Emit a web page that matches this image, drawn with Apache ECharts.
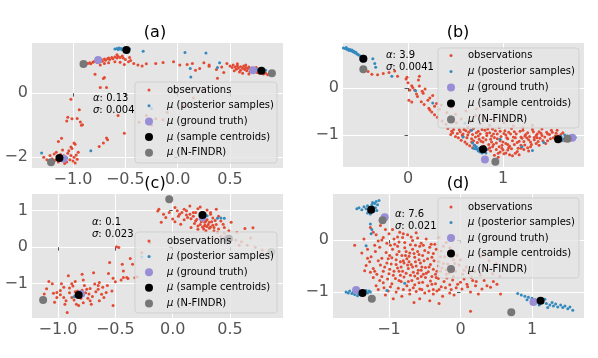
<!DOCTYPE html>
<html>
<head>
<meta charset="utf-8">
<script src="https://cdn.jsdelivr.net/npm/echarts@6/dist/echarts.min.js"></script>
<style>
html, body { margin: 0; padding: 0; background: #fff; }
#main { width: 598px; height: 358px; }
</style>
</head>
<body>
<div id="main"></div>
<script>
// ---- panel (a) ----
var obsA = [
    [-0.92,0.88],[-0.9,0.92],[-0.88,0.9],[-0.86,0.93],[-0.84,0.95],[-0.83,0.92],[-0.81,0.97],[-0.8,0.99],[-0.78,1.0],[-0.77,0.96],
    [-0.75,1.02],[-0.73,1.05],[-0.72,1.0],[-0.7,1.07],[-0.69,1.03],[-0.67,1.08],[-0.66,1.1],[-0.65,1.05],[-0.63,1.12],[-0.62,1.08],
    [-0.6,1.13],[-0.58,1.1],[-0.57,1.15],[-0.55,1.12],[-0.53,1.16],[-0.52,1.1],[-0.5,1.05],[-0.47,0.98],[-0.45,1.02],[-0.42,0.93],
    [-0.38,0.88],[-0.7,0.93],[-0.66,0.95],[-0.6,0.98],[-0.55,0.97],[-0.74,0.88],[-0.58,1.2],[-0.46,1.12],[-0.51,0.9],[-0.34,0.85],
    [-0.3,0.92],[-0.21,0.93],[-0.14,0.96],[-0.04,0.98],[0.02,0.88],[0.09,0.9],[0.14,0.93],[0.17,0.72],[0.21,0.77],[0.3,0.84],
    [0.37,0.74],[0.42,0.82],[0.47,0.93],[0.38,0.47],[0.3,0.88],[0.25,0.95],[0.44,0.65],
    [0.5,0.85],[0.52,0.8],[0.53,0.88],[0.55,0.82],[0.56,0.75],[0.57,0.86],[0.58,0.79],[0.6,0.83],[0.6,0.72],[0.62,0.78],
    [0.63,0.85],[0.64,0.74],[0.65,0.8],[0.66,0.7],[0.67,0.77],[0.68,0.82],[0.69,0.68],[0.7,0.74],[0.71,0.79],[0.72,0.66],
    [0.73,0.71],[0.74,0.76],[0.76,0.65],[0.77,0.7],[0.78,0.62],[0.8,0.66],[0.82,0.6],[0.84,0.62],[0.86,0.58],[0.54,0.7],
    [0.59,0.66],[0.62,0.62],[0.57,0.92],[0.65,0.88],[0.75,0.8],[0.68,0.6],
    [-0.79,0.59],[-0.7,0.49],[-0.74,0.18],[-0.68,0.18],[-0.71,0.46],[-1.02,-0.19],[-0.94,-0.52],[-1.05,-0.75],[-1.06,-0.87],[-0.91,-0.99],
    [-1.01,-0.8],[-0.96,-0.79],[-0.57,-0.7],[-0.51,-1.25],[-0.67,-1.46],[-0.71,-1.56],[-0.75,-1.67],[-1.14,-1.51],[-1.11,-1.41],[-0.99,-1.56],
    [-0.68,-1.4],[-0.92,-1.0],[-0.93,-0.9],[-1.02,-1.68],[-0.98,-1.6],
    [-1.22,-1.95],[-1.2,-2.05],[-1.18,-1.9],[-1.17,-2.1],[-1.15,-1.98],[-1.14,-2.15],[-1.12,-1.92],[-1.1,-2.1],[-1.09,-1.96],[-1.07,-2.02],
    [-1.06,-2.15],[-1.05,-1.88],[-1.03,-2.08],[-1.02,-1.95],[-1.0,-2.12],[-0.99,-2.0],[-0.97,-1.93],[-0.96,-2.07],[-1.04,-1.8],[-1.1,-1.78],
    [-1.16,-1.85],[-1.25,-2.08],[-1.28,-2.0],[-0.98,-2.18],[-1.08,-2.2],[-1.01,-1.73],[-0.95,-1.85],
    [-0.37,-0.91],[-0.21,-0.8],[-0.14,-0.83],[-0.3,-0.7],[-0.1,-0.6],[0.05,-0.4],[0.15,-0.15],[0.25,0.1],[-0.25,-1.0]
];
var postA = [
    [-0.6,1.38],[-0.58,1.4],[-0.57,1.37],[-0.56,1.41],[-0.55,1.38],[-0.54,1.4],[-0.53,1.36],[-0.52,1.39],[-0.51,1.37],[-0.5,1.41],
    [-0.48,1.36],[-0.46,1.38],[-0.33,1.31],[0.07,1.27],[0.27,1.26],[0.12,0.77],[0.125,0.51],[0.4,0.95],[0.38,0.8],[-1.3,-1.87],
    [-0.83,-1.8],[-1.12,-2.05],[-1.1,-2.02],[-1.08,-2.06],[-1.06,-2.03],[-1.14,-2.0],[0.76,0.73],[0.79,0.72],[0.82,0.7],[0.84,0.72],
    [0.78,0.69],[-0.25,-0.48]
];
var truthA = [[-0.76,1.04],[-1.09,-2.05],[0.72,0.72]];
var centA = [[-0.49,1.35],[-1.13,-2.03],[0.8,0.7]];
var nfindrA = [[-0.9,0.91],[-1.21,-2.16],[0.9,0.62]];
var xTicksA = [-1.0, -0.5, 0.0, 0.5];
var yTicksA = [-2, 0];

// ---- panel (b) ----
var obsB = [
    [-0.42,0.35],[-0.38,0.29],[-0.32,0.28],[-0.26,0.31],[-0.2,0.33],[-0.14,0.36],[-0.11,0.25],[-0.02,0.19],[0.0,0.11],[0.04,0.05],
    [0.12,0.25],[0.07,-0.04],[0.16,-0.11],[0.04,-0.3],[0.1,-0.18],[0.17,-0.35],[0.23,-0.21],[0.26,-0.16],[0.22,-0.43],[0.28,-0.39],
    [0.12,0.04],[-0.01,0.23],[0.02,-0.04],[0.01,-0.26],[0.11,0.17],[0.15,-0.07],[0.21,-0.26],[0.23,-0.47],[0.3,-0.33],[0.28,-0.57],
    [0.05,0.01],[0.18,-0.02],[0.09,-0.13],[0.14,-0.29],[0.25,-0.51],[0.33,-0.45],[0.31,-0.62],[0.36,-0.7],[0.4,-0.77],[0.42,-0.86],
    [0.46,-0.92],[0.54,-0.89],[0.58,-1.03],
    [0.35,-0.36],[0.41,-0.52],[0.46,-0.41],[0.5,-0.56],[0.56,-0.66],[0.61,-0.49],[0.66,-0.71],[0.71,-0.59],[0.76,-0.76],[0.81,-0.64],
    [0.86,-0.79],[0.91,-0.69],[0.96,-0.84],[1.01,-0.74],[1.11,-0.81],[1.21,-0.84],[1.31,-0.79],[1.41,-0.87],[0.51,-0.74],[0.63,-0.83],
    [0.72,-0.44],
    [0.48,-0.88],[0.61,-0.91],[0.69,-0.86],[0.81,-0.9],[0.89,-0.87],[1.02,-0.91],[1.09,-0.86],[1.21,-0.9],[1.31,-0.88],[1.38,-0.93],
    [1.51,-0.9],[1.56,-0.96],[0.52,-0.97],[0.64,-0.94],[0.76,-0.98],[0.86,-0.95],[0.94,-0.98],[1.06,-0.94],[1.14,-0.98],[1.26,-0.95],
    [1.36,-0.98],[1.46,-0.94],[1.61,-0.99],[0.5,-1.03],[0.63,-1.0],[0.71,-1.04],[0.83,-1.01],[0.91,-1.05],[1.03,-1.0],[1.11,-1.04],
    [1.23,-1.02],[1.33,-1.05],[1.41,-1.01],[1.53,-1.06],[0.56,-1.11],[0.67,-1.08],[0.77,-1.13],[0.87,-1.09],[0.97,-1.12],[1.05,-1.08],
    [1.17,-1.13],[1.27,-1.1],[1.37,-1.14],[1.47,-1.12],[0.62,-1.19],[0.73,-1.16],[0.85,-1.2],[0.93,-1.17],[1.05,-1.2],[1.15,-1.16],
    [1.23,-1.21],[1.35,-1.18],[0.68,-1.27],[0.89,-1.25],[0.99,-1.28],[1.07,-1.24],[1.19,-1.28],[1.29,-1.25],[0.87,-1.34],[0.97,-1.36],
    [1.05,-1.32],[1.15,-1.35],[1.22,-1.31],[0.91,-1.43],[1.01,-1.4],[1.1,-1.44],[0.55,-0.93],[0.68,-0.99],[0.79,-1.06],[0.88,-1.15],
    [0.99,-1.22],[1.09,-1.29],[1.19,-1.22],[1.29,-1.15],[1.39,-1.07],[1.49,-0.99],[0.6,-1.15],[0.7,-1.22],[0.93,-1.31],[1.03,-1.38],
    [1.13,-1.39],[0.58,-0.98],[0.74,-0.92],[0.9,-0.98],[1.04,-1.06],[1.2,-1.07],[1.35,-1.01],[0.8,-1.24],[0.95,-1.47],[1.27,-1.34],
    [1.45,-1.18],[0.65,-1.23],[1.58,-1.02],[1.12,-0.93],[0.97,-0.92],[0.83,-0.96],[0.75,-1.09],[1.0,-1.15],[1.25,-1.06],[0.45,-0.99],
    [1.65,-1.12],
    [0.47,-0.95],[0.53,-1.06],[0.57,-1.0],[0.59,-0.88],[0.62,-1.06],[0.66,-0.9],[0.67,-1.15],[0.72,-0.95],[0.74,-1.02],[0.78,-0.88],
    [0.79,-1.15],[0.82,-1.1],[0.84,-0.87],[0.86,-1.27],[0.88,-1.02],[0.9,-1.2],[0.92,-0.91],[0.94,-1.08],[0.96,-1.25],[0.98,-1.03],
    [1.0,-1.32],[1.01,-0.97],[1.03,-1.18],[1.06,-1.27],[1.08,-0.98],[1.1,-1.12],[1.12,-1.2],[1.13,-1.06],[1.16,-1.28],[1.18,-0.92],
    [1.19,-1.04],[1.22,-1.14],[1.24,-0.99],[1.26,-1.27],[1.28,-1.03],[1.3,-1.2],[1.32,-0.93],[1.33,-1.1],[1.36,-1.06],[1.38,-1.22],
    [1.4,-0.96],[1.42,-1.12],[1.44,-1.04],[1.47,-0.98],[1.5,-1.08],[1.52,-0.94],[1.55,-1.02],[1.57,-0.9],[1.6,-1.06],[1.63,-0.95],
    [0.69,-1.12],[0.84,-1.3],[1.07,-1.42],[0.95,-1.39],[1.17,-1.42]
];
var postB = [
    [-0.68,0.85],[-0.66,0.84],[-0.65,0.86],[-0.64,0.82],[-0.63,0.83],[-0.62,0.8],[-0.61,0.82],[-0.6,0.79],[-0.59,0.81],[-0.58,0.77],
    [-0.57,0.78],[-0.56,0.75],[-0.55,0.76],[-0.54,0.73],[-0.53,0.72],[-0.52,0.7],[-0.5,0.68],[-0.49,0.66],[-0.37,0.62],[-0.34,0.44],
    [-0.17,0.25],[0.08,-0.06],[0.26,-0.32],[-0.35,0.52],
    [0.68,-1.17],[0.7,-1.22],[0.72,-1.25],[0.73,-1.3],[0.74,-1.34],[0.75,-1.28],[0.76,-1.36],[0.77,-1.32],[0.78,-1.38],[0.8,-1.35],
    [0.81,-1.33],[0.82,-1.38],[0.83,-1.31],[0.71,-1.29],[0.69,-1.28],[0.67,-0.9],[0.58,-1.04],[0.97,-1.09],
    [1.59,-1.05],[1.61,-1.03],[1.63,-1.08],[1.65,-1.0],[1.66,-1.05],[1.68,-1.02],[1.7,-1.07],[1.72,-1.04],[1.74,-1.08],[1.76,-1.05],
    [1.62,-1.12],[1.31,-1.33],[1.43,-1.16],[1.2,-1.25],[0.45,-0.6],[0.6,-0.75]
];
var truthB = [[-0.47,0.62],[0.81,-1.52],[1.73,-1.06]];
var centB = [[-0.47,0.62],[0.79,-1.3],[1.58,-1.09]];
var nfindrB = [[-0.47,0.4],[0.92,-1.57],[1.68,-1.08]];
var xTicksB = [0, 1];
var yTicksB = [-1, 0];

// ---- panel (c) ----
var obsC = [
    [-1.08,-0.94],[-1.05,-1.0],[-1.1,-1.14],[-1.12,-1.28],[-1.04,-1.26],[-1.03,-1.51],[-0.97,-1.0],[-0.98,-1.19],[-0.95,-1.38],[-0.94,-1.56],
    [-0.91,-0.78],[-0.9,-1.12],[-0.92,-1.79],[-0.87,-1.06],[-0.85,-0.94],[-0.79,-0.74],[-0.78,-0.9],[-0.75,-1.15],[-0.73,-1.28],[-0.72,-1.47],
    [-0.69,-0.7],[-0.68,-1.01],[-0.65,-1.15],[-0.64,-0.97],[-0.62,-1.29],[-0.61,-1.1],[-0.58,-1.24],[-0.53,-1.2],[-0.52,-1.6],[-0.64,-1.47],
    [-0.71,-1.56],[-0.78,-1.52],[-0.84,-1.56],[-0.88,-1.38],[-1.01,-1.38],[-1.01,-1.24],
    [-0.83,-1.2],[-0.8,-1.4],[-0.76,-1.25],[-0.86,-1.45],[-0.9,-1.25],[-0.7,-1.35],[-0.95,-1.1],[-0.67,-1.22],[-0.6,-1.38],[-0.77,-1.05],
    [-0.88,-1.0],[-0.72,-1.13],[-0.93,-1.47],[-0.82,-1.6],[-0.57,-1.05],[-0.65,-1.05],[-0.98,-1.3],[-0.79,-1.18],[-0.85,-1.22],[-0.74,-1.4],
    [-0.47,-0.01],[-0.55,-0.42],[-0.44,-0.47],[-0.43,-0.65],[-0.4,-0.83],[-0.43,-0.83],[-0.35,-0.47],[-0.27,-0.15],[-0.2,0.13],[-0.49,0.01],
    [-0.37,-0.31],[-0.31,-0.81],[-0.39,-0.86],[-0.56,-0.72],[-0.5,-0.95],[-0.33,-0.84],[-0.45,-0.9],[-0.52,-0.85],
    [-0.12,1.04],[-0.06,0.81],[-0.03,0.95],[0.0,0.77],[0.02,1.09],[0.06,0.9],[0.07,0.63],[0.1,1.04],[0.13,0.81],[0.15,1.13],
    [0.16,0.54],[0.2,0.72],[0.22,0.49],[0.28,0.58],[0.29,0.45],[0.32,0.68],[0.33,0.9],[0.36,0.54],[0.38,1.04],[0.39,0.4],
    [0.44,0.63],[0.45,0.54],[0.49,0.45],[0.51,0.68],
    [0.2,0.95],[0.22,1.05],[0.18,0.85],[0.3,0.75],[0.33,0.95],[0.35,0.8],[0.25,0.7],[0.28,0.6],[0.15,0.9],[0.1,0.75],
    [0.05,0.85],[0.12,1.0],[0.24,1.1],[0.3,1.02],[0.4,0.85],[0.42,0.72],[0.38,0.62],[0.26,0.95],[0.19,0.65],[0.16,0.78],
    [0.08,0.95],[0.02,0.7],[-0.08,0.9],[-0.1,0.68],[0.32,0.52],[0.4,0.5],[0.45,0.38],[0.36,0.45],[0.27,0.5],[0.22,0.58],
    [-0.13,0.99],
    [0.25,0.78],[0.28,0.68],[0.31,0.62],[0.34,0.7],[0.3,0.57],[0.24,0.62],[0.35,0.6],[0.29,0.72],[0.21,0.76],[0.37,0.73],
    [0.33,0.55],[0.26,0.55],[0.18,0.95],[0.12,0.88],[0.04,1.0],
    [0.56,0.4],[0.63,0.51],[0.7,0.53],[0.5,0.3],[0.55,0.2],[0.6,0.15],[0.65,0.05],[0.72,0.0],[0.78,-0.08],[0.58,0.05],
    [0.68,0.25],[0.42,0.3],[0.35,0.25]
];
var postC = [
    [-0.85,-1.33],[-0.83,-1.28],[-0.8,-1.3],[-0.78,-1.32],[-0.86,-1.36],[-0.79,-1.27],
    [0.24,0.88],[0.28,0.9],[0.3,0.86],[0.39,0.79],[0.45,0.79],[0.42,0.8],
    [-0.27,-0.27],[-0.2,-0.26],[0.45,0.2],[0.5,0.25],[0.48,0.18]
];
var truthC = [[-0.8,-1.28],[0.26,0.81],[0.47,0.22]];
var centC = [[-0.82,-1.31],[0.26,0.88],[0.49,0.23]];
var nfindrC = [[-1.13,-1.45],[-0.03,1.31],[0.86,-0.13]];
var xTicksC = [-1.0, -0.5, 0.0, 0.5];
var yTicksC = [-1, 0, 1];

// ---- panel (d) ----
var obsD = [
    [-1.26,0.24],[-1.22,0.15],[-1.12,0.28],[-1.08,0.05],[-1.0,0.12],[-0.95,0.2],[-0.92,-0.08],[-0.88,0.06],[-0.81,0.05],[-0.78,-0.05],
    [-0.74,0.1],[-0.67,-0.01],[-0.6,0.04],[-0.55,-0.06],[-0.48,0.02],[-0.41,-0.08],[-1.15,-0.02],[-1.03,-0.06],[-0.85,0.15],[-1.18,0.1],
    [-0.62,0.14],[-0.7,-0.09],[-0.3,0.05],[-0.2,-0.05],[-0.15,-0.15],[-1.35,0.02],[-1.48,-0.1],
    [-1.38,-0.25],[-1.3,-0.18],[-1.25,-0.32],[-1.19,-0.22],[-1.13,-0.14],[-1.1,-0.35],[-1.04,-0.24],[-0.99,-0.3],[-0.95,-0.18],[-0.9,-0.38],
    [-0.86,-0.22],[-0.82,-0.3],[-0.78,-0.15],[-0.75,-0.36],[-0.71,-0.25],[-0.67,-0.18],[-0.64,-0.33],[-0.6,-0.22],[-0.57,-0.12],[-0.53,-0.3],
    [-0.5,-0.2],[-0.46,-0.36],[-0.43,-0.14],[-0.38,-0.26],[-0.34,-0.18],[-0.27,-0.21],[-0.22,-0.32],[-0.16,-0.27],[-0.1,-0.38],[-0.05,-0.3],
    [-0.88,-0.12],[-0.72,-0.31],[-0.58,-0.38],[-0.96,-0.34],[-0.4,-0.33],[-0.65,-0.26],[-0.8,-0.4],
    [-1.32,-0.49],[-1.34,-0.59],[-1.27,-0.42],[-1.22,-0.55],[-1.17,-0.66],[-1.12,-0.48],[-1.08,-0.6],[-1.03,-0.44],[-0.99,-0.56],[-0.94,-0.68],
    [-0.9,-0.47],[-0.86,-0.6],[-0.83,-0.52],[-0.79,-0.44],[-0.76,-0.64],[-0.73,-0.55],[-0.69,-0.47],[-0.66,-0.62],[-0.62,-0.5],[-0.59,-0.58],
    [-0.56,-0.44],[-0.52,-0.66],[-0.49,-0.53],[-0.45,-0.61],[-0.42,-0.47],[-0.38,-0.56],[-0.35,-0.66],[-0.31,-0.5],[-0.28,-0.6],[-0.24,-0.45],
    [-0.2,-0.57],[-0.16,-0.64],[-0.12,-0.52],[-0.07,-0.6],[-0.02,-0.48],[0.05,-0.58],[0.12,-0.65],[0.2,-0.6],[0.28,-0.68],[-0.72,-0.42],
    [-0.54,-0.52],[-0.3,-0.42],[-0.88,-0.54],[-0.64,-0.69],[-0.4,-0.7],[-1.0,-0.65],[-0.18,-0.46],
    [-1.22,-0.72],[-1.18,-0.88],[-1.13,-0.78],[-1.07,-0.92],[-1.01,-0.98],[-1.02,-0.75],[-0.96,-0.84],[-0.91,-0.74],[-0.87,-0.93],[-0.83,-0.8],
    [-0.79,-0.71],[-0.75,-0.88],[-0.71,-0.96],[-0.68,-0.78],[-0.64,-0.86],[-0.6,-0.74],[-0.57,-0.94],[-0.53,-0.81],[-0.49,-0.72],[-0.46,-0.88],
    [-0.42,-0.79],[-0.38,-0.95],[-0.35,-0.84],[-0.31,-0.74],[-0.27,-0.9],[-0.23,-0.8],[-0.19,-0.73],[-0.15,-0.86],[-0.11,-0.77],[-0.06,-0.92],
    [0.0,-0.81],[0.02,-0.94],[0.09,-0.85],[0.14,-1.0],[0.21,-0.88],[0.25,-1.04],[0.3,-0.94],[0.37,-0.88],[0.42,-0.91],[0.51,-0.85],
    [0.56,-1.04],[-0.84,-0.68],[-0.55,-0.7],[-0.1,-0.7],[0.05,-0.75],[0.17,-0.78],[-0.33,-0.98],[-0.62,-0.99],
    [-0.94,-1.13],[-0.71,-1.04],[-0.57,-1.13],[-0.43,-1.17],[-0.38,-1.04],[-0.82,-1.08],[-0.5,-1.02],[-0.25,-1.08],[-0.15,-1.02],[-0.65,-1.2],
    [0.14,-1.37],[-1.05,-1.06],[-0.3,-1.22],
    [0.35,-0.55],[0.45,-0.65],[0.55,-0.7],[0.4,-0.4],[0.6,-0.5],[0.5,-0.45],[0.3,-0.3],[0.45,-0.25],
    [-1.2,-0.1],[-1.1,0.0],[-1.05,0.2],[-0.98,-0.1],[-0.93,0.02],[-0.86,-0.04],[-0.8,0.12],[-0.76,-0.22],[-0.69,0.06],[-0.63,-0.1],
    [-0.58,-0.28],[-0.52,-0.1],[-0.45,-0.24],[-0.36,-0.08],[-0.28,-0.32],[-0.24,-0.12],[-0.12,-0.22],[-0.08,-0.45],[0.0,-0.38],[0.03,-0.66],
    [0.08,-0.52],[0.15,-0.72],[0.22,-0.8],[0.1,-0.9],[-0.04,-0.85],[-0.13,-0.95],[-0.2,-0.66],[-0.26,-0.54],[-0.33,-0.6],[-0.37,-0.4],
    [-0.44,-0.52],[-0.48,-0.64],[-0.51,-0.4],[-0.55,-0.58],[-0.6,-0.64],[-0.63,-0.42],[-0.67,-0.52],[-0.7,-0.68],[-0.74,-0.48],[-0.77,-0.3],
    [-0.81,-0.6],[-0.84,-0.42],[-0.89,-0.28],[-0.93,-0.6],[-0.97,-0.46],[-1.01,-0.36],[-1.06,-0.52],[-1.1,-0.7],[-1.15,-0.4],[-1.2,-0.6],
    [-1.26,-0.62],[-1.3,-0.35],[-1.15,-0.95],[-1.08,-0.82],[-0.98,-0.9],[-0.9,-1.0],[-0.8,-0.95],[-0.73,-0.8],[-0.66,-0.92],[-0.58,-0.82],
    [-0.44,-0.98],[-0.4,-0.85],[-0.3,-0.95],[-0.21,-0.92],[-0.09,-1.06],[0.33,-0.78],[0.46,-0.8],[-0.54,-0.95],[-0.86,-0.78],[-0.34,-0.72]
];
var postD = [
    [-1.45,0.6],[-1.42,0.62],[-1.38,0.58],[-1.35,0.64],[-1.32,0.6],[-1.3,0.66],[-1.28,0.55],[-1.27,0.62],[-1.24,0.68],[-1.22,0.63],
    [-1.2,0.7],[-1.18,0.74],[-1.16,0.68],[-1.14,0.76],[-1.26,0.5],[-1.3,0.52],[-1.21,0.56],[-1.19,0.62],[-1.23,0.72],[-1.17,0.57],
    [-1.26,0.31],[-1.25,0.12],[-1.32,-0.11],[-1.24,0.2],
    [-1.6,-1.0],[-1.57,-1.02],[-1.55,-0.98],[-1.52,-1.03],[-1.5,-1.0],[-1.48,-1.05],[-1.45,-1.01],[-1.42,-1.04],[-1.4,-0.99],[-1.35,-1.0],
    [-1.32,-0.97],[-1.3,-1.02],[-1.28,-0.98],[-1.26,-1.0],[-1.44,-1.07],[-1.03,-0.97],[-0.78,-0.83],
    [0.8,-1.03],[0.85,-1.06],[0.9,-1.08],[0.95,-1.1],[1.0,-1.12],[1.05,-1.15],[1.15,-1.2],[1.2,-1.22],[1.25,-1.25],[1.28,-1.2],
    [1.3,-1.27],[1.33,-1.23],[1.36,-1.29],[1.4,-1.25],[1.43,-1.3],[1.46,-1.27],[1.5,-1.32],[1.53,-1.29],[1.57,-1.35],[0.93,-1.15],
    [1.1,-1.25],[1.22,-1.3],[1.18,-1.14]
];
var truthD = [[-1.06,0.44],[-1.46,-0.96],[1.02,-1.19]];
var centD = [[-1.25,0.58],[-1.37,-1.02],[1.12,-1.17]];
var nfindrD = [[-1.09,0.38],[-1.24,-1.13],[0.71,-1.39]];
var xTicksD = [-1, 0, 1];
var yTicksD = [-1, 0];

var panelNames = ['(a)', '(b)', '(c)', '(d)'];
var alphaText = ['0.13', '3.9', '0.1', '7.6'];
var sigmaText = ['0.004', '0.0041', '0.023', '0.021'];
var legendNames = ['observations', 'posterior samples', 'ground truth', 'sample centroids', 'N-FINDR'];

var FONT = 'DejaVu Sans';
var colors = ['#E24A33', '#348ABD', '#988ED5', '#000000', '#777777'];
var sizes = [3, 3, 8, 8, 8];

// layout per panel (pixels)
var grids = [
    {left: 32, top: 43, width: 251, height: 125},
    {left: 343, top: 43, width: 241, height: 124},
    {left: 32, top: 194, width: 251, height: 124},
    {left: 333, top: 194, width: 251, height: 124}
];
var ranges = [
    {x: [-1.392, 1.006], y: [-2.34, 1.57], xt: xTicksA, yt: yTicksA, xd: 1, yd: 0},
    {x: [-0.684, 1.853], y: [-1.68, 0.957], xt: xTicksB, yt: yTicksB, xd: 0, yd: 0},
    {x: [-1.227, 0.962], y: [-1.94, 1.457], xt: xTicksC, yt: yTicksC, xd: 1, yd: 0},
    {x: [-1.783, 1.727], y: [-1.5, 0.885], xt: xTicksD, yt: yTicksD, xd: 0, yd: 0}
];
var titlePos = [[155, 25], [458, 25], [155, 176], [458, 176]];
var notePos = [[93, 98], [386, 55], [92, 222], [395, 214]];
var legendBoxes = [
    {x: 135, y: 82, w: 142, h: 81, row: 90, gap: 15.7, mx: 149, tx: 167},
    {x: 438, y: 48, w: 141, h: 80, row: 55.5, gap: 16, mx: 451, tx: 468},
    {x: 135, y: 232, w: 142, h: 81, row: 241, gap: 15.6, mx: 149, tx: 167},
    {x: 438, y: 198, w: 141, h: 80, row: 207, gap: 15.5, mx: 451, tx: 468}
];
var panelData = [
    [obsA, postA, truthA, centA, nfindrA],
    [obsB, postB, truthB, centB, nfindrB],
    [obsC, postC, truthC, centC, nfindrC],
    [obsD, postD, truthD, centD, nfindrD]
];

function fmt(d) {
    return function (v) {
        return v.toFixed(d).replace('-', '\u2212');
    };
}

function makeAxis(i, range, ticks, digits) {
    return {
        type: 'value',
        gridIndex: i,
        min: range[0],
        max: range[1],
        axisLine: {show: false},
        axisTick: {show: true, length: 3.5, customValues: ticks, lineStyle: {color: '#555555'}},
        axisLabel: {customValues: ticks, color: '#555555', fontSize: 16, fontFamily: FONT, margin: 4, formatter: fmt(digits)},
        splitLine: {show: true, lineStyle: {color: '#ffffff', width: 1}}
    };
}

var option = {
    animation: false,
    backgroundColor: '#ffffff',
    grid: [], xAxis: [], yAxis: [], title: [], series: [], graphic: []
};

var rich = {i: {fontStyle: 'italic', fontFamily: FONT, fontSize: 10, fill: '#000'}};

for (var i = 0; i < 4; i++) {
    var g = grids[i];
    option.grid.push({left: g.left, top: g.top, width: g.width, height: g.height,
        show: true, backgroundColor: '#E5E5E5', borderWidth: 0});
    option.xAxis.push(makeAxis(i, ranges[i].x, ranges[i].xt, ranges[i].xd));
    option.yAxis.push(makeAxis(i, ranges[i].y, ranges[i].yt, ranges[i].yd));
    option.title.push({
        text: panelNames[i], left: titlePos[i][0], top: titlePos[i][1], textAlign: 'center', padding: 0,
        textStyle: {fontSize: 16, fontWeight: 'normal', color: '#000', fontFamily: FONT}
    });
    for (var k = 0; k < 5; k++) {
        option.series.push({
            type: 'scatter',
            name: legendNames[k],
            xAxisIndex: i,
            yAxisIndex: i,
            data: panelData[i][k],
            symbol: 'circle',
            symbolSize: sizes[k],
            itemStyle: {color: colors[k], opacity: 1},
            emphasis: {disabled: true},
            silent: true
        });
    }

    // alpha / sigma note
    option.graphic.push({
        type: 'text', left: notePos[i][0], top: notePos[i][1] - 6, z: 50,
        style: {text: '{i|α}: ' + alphaText[i] + '\n{i|σ}: ' + sigmaText[i],
            font: '10px "DejaVu Sans"', fill: '#000', lineHeight: 12, rich: rich}
    });

    // legend box drawn by hand so marker sizes can differ
    var lb = legendBoxes[i];
    option.graphic.push({
        type: 'rect', z: 100,
        shape: {x: lb.x, y: lb.y, width: lb.w, height: lb.h, r: 3},
        style: {fill: 'rgba(229,229,229,0.8)', stroke: 'rgba(204,204,204,0.8)', lineWidth: 1}
    });
    for (var k = 0; k < 5; k++) {
        var cy = lb.row + k * lb.gap;
        option.graphic.push({
            type: 'circle', z: 101,
            shape: {cx: lb.mx, cy: cy, r: sizes[k] / 2},
            style: {fill: colors[k]}
        });
        var label = k == 0 ? legendNames[k] : '{i|μ} (' + legendNames[k] + ')';
        option.graphic.push({
            type: 'text', z: 101, x: lb.tx, y: cy,
            style: {text: label, font: '10px "DejaVu Sans"', fill: '#000', verticalAlign: 'middle', rich: rich}
        });
    }
}

var myChart = echarts.init(document.getElementById('main'), null, {renderer: 'canvas'});
myChart.setOption(option);
</script>
</body>
</html>
